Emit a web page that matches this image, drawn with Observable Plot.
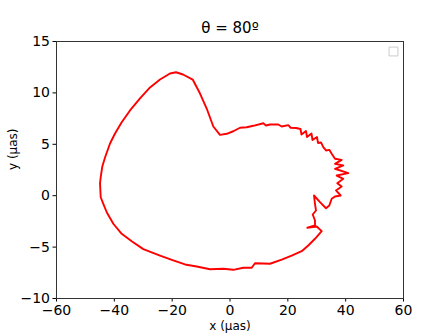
<!DOCTYPE html>
<html>
<head>
<meta charset="utf-8">
<script src="https://cdn.jsdelivr.net/npm/d3@7"></script>
<script src="https://cdn.jsdelivr.net/npm/@observablehq/plot@0.6"></script>
<style>
  html, body { margin: 0; padding: 0; background: white; }
</style>
</head>
<body>
<div id="chart"></div>
<script>
const title = "θ = 80º";
const xLabel = "x (μas)";
const yLabel = "y (μas)";
const xTicks = [-60, -40, -20, 0, 20, 40, 60];
const yTicks = [-10, -5, 0, 5, 10, 15];

const xs = [-3.46, -1.14, 1.14, 3.46, 5.77, 8.06, 11.51, 12.45, 13.83, 16.70, 17.88, 20.16, 20.99, 22.82, 24.38, 24.72, 26.28, 26.63, 28.18, 28.53, 30.08, 30.43, 31.47, 32.26, 33.20, 34.34, 35.17, 36.31, 38.62, 36.31, 39.18, 36.31, 40.91, 36.89, 39.18, 37.10, 38.62, 36.65, 38.28, 36.31, 35.17, 34.34, 33.20, 31.12, 29.05, 29.39, 29.74, 28.60, 29.39, 29.39, 26.73, 29.98, 31.71, 29.39, 27.07, 24.79, 21.33, 17.88, 13.83, 8.64, 7.50, 4.60, 1.14, -2.32, -6.92, -11.51, -15.56, -19.61, -24.20, -29.98, -33.99, -37.45, -40.35, -42.63, -43.81, -44.71, -44.95, -44.71, -44.16, -43.22, -41.49, -39.76, -37.45, -34.58, -31.12, -27.66, -24.20, -20.75, -18.67, -16.25, -12.90, -10.37, -8.06, -5.77, -3.46];
const ys = [5.92, 6.02, 6.27, 6.61, 6.66, 6.80, 7.05, 6.83, 6.93, 6.93, 6.73, 6.86, 6.61, 6.59, 6.49, 5.95, 6.29, 5.71, 6.05, 5.42, 5.71, 5.13, 5.18, 4.72, 4.40, 4.46, 4.08, 3.59, 3.49, 3.10, 2.94, 2.62, 2.19, 1.96, 1.64, 1.22, 0.89, 0.51, 0.02, -0.08, -0.30, -0.95, -1.22, -0.63, 0.02, -0.79, -1.44, -1.83, -2.41, -2.90, -3.12, -3.00, -3.45, -4.19, -4.84, -5.40, -5.82, -6.21, -6.62, -6.57, -7.01, -7.01, -7.21, -7.11, -7.15, -6.89, -6.69, -6.30, -5.82, -5.20, -4.43, -3.71, -2.73, -1.61, -0.79, -0.15, 1.19, 1.80, 2.84, 3.72, 5.08, 6.05, 7.15, 8.29, 9.46, 10.53, 11.30, 11.89, 12.01, 11.79, 11.30, 9.94, 8.48, 6.73, 5.92];

const points = xs.map((x, i) => ({x, y: ys[i]}));

const chart = Plot.plot({
  width: 448,
  height: 336,
  marginLeft: 56,
  marginRight: 45,
  marginTop: 41,
  marginBottom: 38,
  style: {fontFamily: "DejaVu Sans", fontSize: "14px", color: "black", background: "white"},
  x: {domain: [-60, 60], label: null},
  y: {domain: [-10, 15], label: null},
  marks: [
    Plot.axisX({ticks: xTicks, tickSize: 3.5, tickPadding: 3, fontSize: 14, label: null}),
    Plot.axisY({ticks: yTicks, tickSize: 3.5, tickPadding: 3, fontSize: 14, label: null}),
    Plot.line(points, {x: "x", y: "y", stroke: "red", strokeWidth: 1.9, curve: "linear"}),
    Plot.frame({stroke: "#333", strokeWidth: 1}),
    Plot.dot([0], {frameAnchor: "top-right", dx: -10, dy: 10, symbol: "square", r: 5, fill: "white", stroke: "#ccc", strokeWidth: 1}),
    Plot.text([title], {frameAnchor: "top", lineAnchor: "bottom", dy: -9, fontSize: 15, fill: "black"}),
    Plot.text([xLabel], {frameAnchor: "bottom", lineAnchor: "bottom", dy: 31, fontSize: 12, fill: "black"}),
    Plot.text([yLabel], {frameAnchor: "left", lineAnchor: "middle", dx: -43.5, rotate: -90, fontSize: 12, fill: "black"})
  ]
});
document.getElementById("chart").appendChild(chart);
</script>
</body>
</html>
